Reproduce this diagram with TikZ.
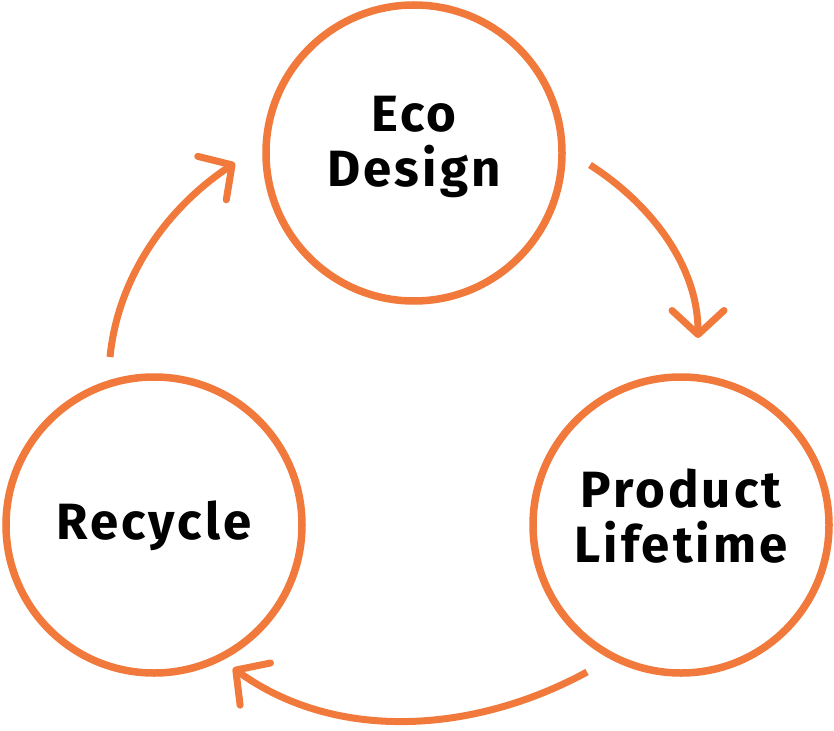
\documentclass[tikz,border=0pt]{standalone}
\usepackage{fontspec}
\setmainfont{Fira Sans}[LetterSpace=6]
\usetikzlibrary{arrows.meta}
\definecolor{eco}{RGB}{240,121,59}
\begin{document}
\begin{tikzpicture}[x=1pt,y=-1pt,
  stage/.style={circle,draw=eco,line width=7.5pt,minimum size=296pt,inner sep=0pt},
  lbl/.style={align=center,inner sep=0pt,font=\fontsize{51}{55}\selectfont\bfseries,text=black},
  cyc/.style={draw=eco,line width=7pt,-{Straight Barb[length=24pt,width=52pt,round]}}]
\useasboundingbox (0,0) rectangle (834,730);
\node[stage] (eco) at (414,153) {};
\node[stage] (prod) at (681,525) {};
\node[stage] (rec) at (154,525) {};
\node[lbl] (ecot) at ([yshift=6pt]eco.center) {Eco\\Design};
\node[lbl] (prodt) at ([yshift=9pt]prod.center) {Product\\Lifetime};
\node[lbl] (rect) at ([yshift=-1pt]rec.center) {Recycle};
\coordinate (a1s) at (590,165);
\coordinate (a1e) at (698,338);
\coordinate (a2s) at (587,672);
\coordinate (a2e) at (233,668);
\coordinate (a3s) at (110,357);
\coordinate (a3e) at (235,163);
\draw[cyc] (a1s) .. controls (651,204) and (698,266) .. (a1e);
\draw[cyc] (a2s) .. controls (475,733) and (337,743) .. (a2e);
\draw[cyc] (a3s) .. controls (118,276) and (168,207) .. (a3e);
\end{tikzpicture}
\end{document}
